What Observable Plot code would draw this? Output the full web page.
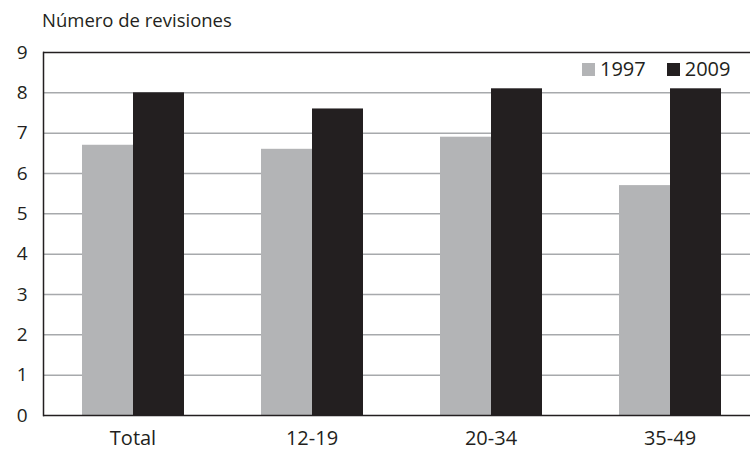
<!DOCTYPE html>
<html>
<head>
<meta charset="utf-8">
<script src="https://cdn.jsdelivr.net/npm/d3@7"></script>
<script src="https://cdn.jsdelivr.net/npm/@observablehq/plot@0.6"></script>
<style>
  html, body { margin: 0; padding: 0; background: #fff; overflow: hidden; }
  #wrap { position: relative; width: 750px; height: 451px; font-family: "Open Sans", sans-serif; color: #231f20; }
  #title { height: 30px; box-sizing: border-box; padding-left: 42px; padding-top: 11px; font-size: 18.5px; line-height: 1; white-space: nowrap; }
  #legend { position: absolute; top: 59px; left: 582px; display: flex; align-items: center; font-size: 20px; line-height: 1; }
  #legend .sw { width: 13px; height: 13px; display: inline-block; margin-right: 5px; }
  #legend .item { display: flex; align-items: center; margin-right: 21px; }
  svg { display: block; overflow: visible; }
</style>
</head>
<body>
<div id="wrap">
  <div id="title">Número de revisiones</div>
  <div id="chart"></div>
  <div id="legend"></div>
</div>
<script>
const categories = ["Total", "12-19", "20-34", "35-49"];
const years = ["1997", "2009"];
const values1997 = [6.7, 6.6, 6.9, 5.7];
const values2009 = [8.0, 7.6, 8.1, 8.1];
const yTicks = [0, 1, 2, 3, 4, 5, 6, 7, 8, 9];
const colors = ["#b3b4b6", "#231f20"];

const data = categories.flatMap((c, i) => [
  {category: c, year: years[0], value: values1997[i]},
  {category: c, year: years[1], value: values2009[i]}
]);

const chart = Plot.plot({
  width: 750,
  height: 421,
  marginLeft: 42,
  marginRight: -9,
  marginTop: 22,
  marginBottom: 36,
  style: {fontFamily: "Open Sans, sans-serif", color: "#231f20", background: "transparent"},
  fx: {domain: categories, padding: 0},
  x: {domain: years, paddingInner: 0, paddingOuter: 0.738, axis: null},
  y: {domain: [0, 9]},
  color: {domain: years, range: colors},
  marks: [
    Plot.ruleY(yTicks.slice(1, -1), {stroke: "#a7a9ac", strokeWidth: 1.5}),
    Plot.barY(data, {fx: "category", x: "year", y: "value", fill: "year"}),
    Plot.ruleY([0, 9], {stroke: "#231f20", strokeWidth: 1.5}),
    Plot.frame({anchor: "left", stroke: "#231f20", strokeWidth: 1.5, facet: "super"}),
    Plot.axisY(yTicks, {tickSize: 0, tickPadding: 16, fontSize: 19, label: null}),
    Plot.axisFx({anchor: "bottom", tickSize: 0, tickPadding: 15, fontSize: 20, label: null})
  ]
});
document.getElementById("chart").appendChild(chart);

const legend = document.getElementById("legend");
years.forEach((y, i) => {
  const item = document.createElement("div");
  item.className = "item";
  if (i === years.length - 1) item.style.marginRight = "0";
  const sw = document.createElement("span");
  sw.className = "sw";
  sw.style.background = colors[i];
  const t = document.createElement("span");
  t.textContent = y;
  item.appendChild(sw);
  item.appendChild(t);
  legend.appendChild(item);
});
</script>
</body>
</html>
